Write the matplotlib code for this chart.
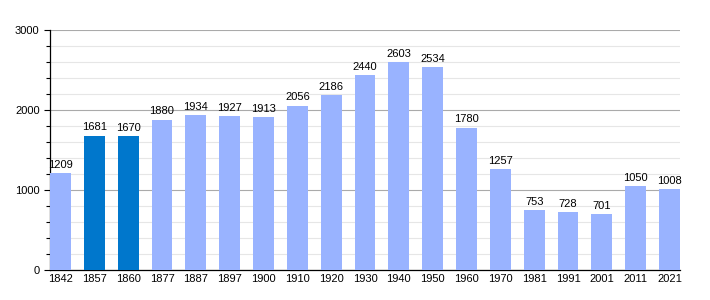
import numpy as np
import matplotlib
matplotlib.use("Agg")
import matplotlib.pyplot as plt
from matplotlib.ticker import MultipleLocator

# Population par année
annees = ["1842", "1857", "1860", "1877", "1887", "1897", "1900", "1910", "1920", "1930",
          "1940", "1950", "1960", "1970", "1981", "1991", "2001", "2011", "2021"]
population = [1209, 1681, 1670, 1880, 1934, 1927, 1913, 2056, 2186, 2440,
              2603, 2534, 1780, 1257, 753, 728, 701, 1050, 1008]
annees_foncees = ["1857", "1860"]

plt.rcParams['font.family'] = ['Liberation Sans', 'DejaVu Sans']

clair = "#99b3ff"
fonce = "#0077cc"
couleurs = [fonce if a in annees_foncees else clair for a in annees]

fig = plt.figure(figsize=(7.1, 3.0), dpi=100)
ax = fig.add_axes([50/710, 30/300, 630/710, 240/300])

x = np.arange(len(annees))
largeur = 0.62
ax.bar(x, population, width=largeur, color=couleurs, zorder=3)

for xi, v in zip(x, population):
    ax.text(xi, v + 40, str(v), ha='center', va='bottom', fontsize=8, zorder=4)

ax.set_xlim(-largeur/2, len(annees) - 1 + largeur/2)
ax.set_ylim(0, 3000)
ax.set_xticks(x)
ax.set_xticklabels(annees, fontsize=8)
ax.yaxis.set_major_locator(MultipleLocator(1000))
ax.yaxis.set_minor_locator(MultipleLocator(200))
ax.tick_params(axis='y', labelsize=8, length=4, width=0.8)
ax.tick_params(axis='y', which='minor', length=3, width=0.8)
ax.tick_params(axis='x', length=0, pad=3)

ax.grid(axis='y', which='major', color='#aaaaaa', linewidth=0.8, zorder=0)
ax.grid(axis='y', which='minor', color='#e6e6e6', linewidth=0.8, zorder=0)

for s in ['top', 'right']:
    ax.spines[s].set_visible(False)
ax.spines['left'].set_linewidth(0.9)
ax.spines['bottom'].set_linewidth(0.9)

fig.savefig("out.png", dpi=100)
plt.close()
